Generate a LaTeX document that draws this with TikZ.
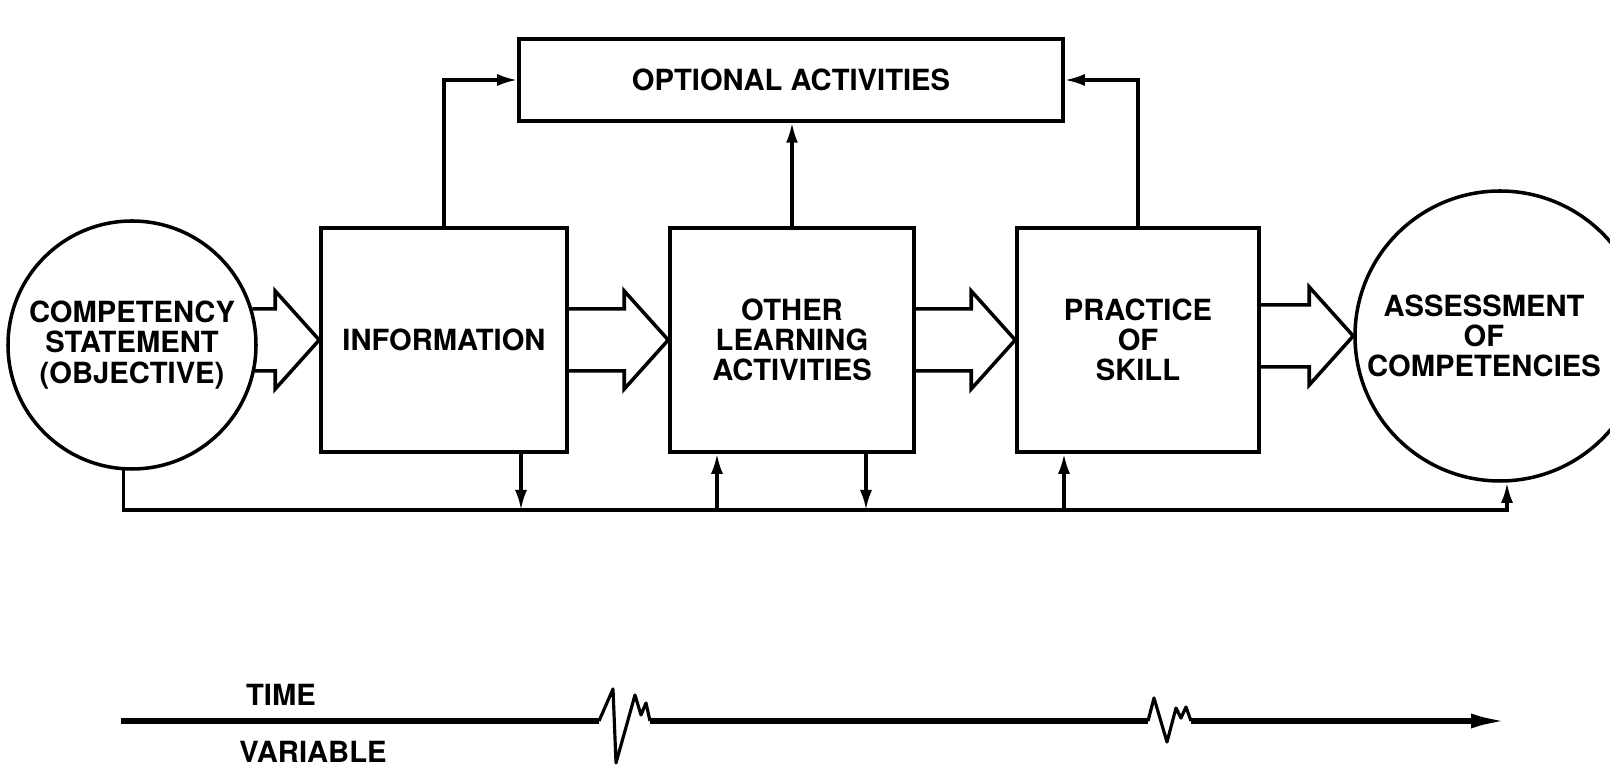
\documentclass[tikz,border=0pt]{standalone}
\usepackage{fontspec}
\setmainfont{TeX Gyre Heros}
\usetikzlibrary{arrows.meta,calc}

\tikzset{
  box/.style={draw, line width=1pt, inner sep=0pt, align=center,
    font=\bfseries\fontsize{8.3}{8.6}\selectfont},
  ball/.style={box, circle},
  link/.style={line width=0.9pt, -{Latex[length=2mm,width=1.2mm]}},
  fat/.style={line width=1pt, line join=miter},
  axis/.style={line width=1.5pt},
  wiggle/.style={line width=0.9pt, line join=round},
  lbl/.style={align=center, font=\bfseries\fontsize{8.3}{8.6}\selectfont},
}

% hollow arrow: upper start #1, lower start #2, tip #3
\newcommand{\fatarrow}[3]{%
  \coordinate (tip) at (#3);
  \coordinate (hu) at ($(tip)+(-0.44,0.31)$);
  \coordinate (hl) at ($(tip)+(-0.44,-0.31)$);
  \draw [fat](#1 |- hu) -- (hu) -- ++(0,0.18) -- (tip)
    -- ($(tip)+(-0.44,-0.49)$) -- (hl) -- (#2 |- hl);
}

\begin{document}
\begin{tikzpicture}
\useasboundingbox (0,0) rectangle (16.1,7.65);
\clip (0,0) rectangle (16.1,7.65);

% main row
\node [ball, minimum size=2.48cm] (cs) at (1.32,4.20){COMPETENCY\\STATEMENT\\(OBJECTIVE)};
\node [box, minimum width=2.46cm, minimum height=2.24cm] (info) at (4.44,4.25){INFORMATION};
\node [box, minimum width=2.44cm, minimum height=2.24cm] (other) at (7.92,4.25){OTHER\\LEARNING\\ACTIVITIES};
\node [box, minimum width=2.42cm, minimum height=2.24cm] (skill) at (11.38,4.25){PRACTICE\\OF\\SKILL};
\node [ball, minimum size=2.9cm] (as) at (15.0,4.29){};
\node [lbl] (astext) at ([xshift=-1.6mm]as.center){ASSESSMENT\\OF\\COMPETENCIES};

% optional box on top
\node [box, minimum width=5.44cm, minimum height=0.82cm] (opt) at (7.91,6.85){OPTIONAL ACTIVITIES};

% big hollow arrows
\fatarrow{cs.17}{cs.-12}{info.west}
\fatarrow{info.east}{info.east}{other.west}
\fatarrow{other.east}{other.east}{skill.west}
\fatarrow{skill.east}{skill.east}{as.west}

% up to optional activities
\draw [link](info.north) |- (opt.west);
\draw [link](other.north) -- (other.north |- opt.south);
\draw [link](skill.north) |- (opt.east);

% feedback line underneath
\coordinate (fb) at (0,2.55);
\draw [link](cs.266) -- (cs.266 |- fb) -- ([xshift=0.7mm]as.south |- fb) -- ([xshift=0.7mm]as.south);
\draw [link]([xshift=7.7mm]info.south) -- ([xshift=7.7mm]info.south |- fb);
\draw [link]([xshift=-7.5mm]other.south |- fb) -- ([xshift=-7.5mm]other.south);
\draw [link]([xshift=7.4mm]other.south) -- ([xshift=7.4mm]other.south |- fb);
\draw [link]([xshift=-7.4mm]skill.south |- fb) -- ([xshift=-7.4mm]skill.south);

% time axis with breaks
\coordinate (t0) at (1.21,0.44);
\coordinate (t1) at (15.07,0.44);
\draw [axis](t0) -- (5.99,0.44);
\draw [wiggle](5.99,0.44) -- (6.13,0.76) -- (6.16,0.02) -- (6.35,0.70) -- (6.41,0.50) -- (6.46,0.62) -- (6.50,0.44);
\draw [axis](6.50,0.44) -- (11.48,0.44);
\draw [wiggle](11.48,0.44) -- (11.54,0.67) -- (11.67,0.23) -- (11.76,0.57) -- (11.81,0.47) -- (11.86,0.58) -- (11.91,0.44);
\draw [axis, -{Latex[length=3.6mm,width=1.5mm]}](11.91,0.44) -- (t1);

\node [lbl] (time) at (2.81,0.70){TIME};
\node [lbl] (var) at (3.13,0.13){VARIABLE};
\end{tikzpicture}
\end{document}
